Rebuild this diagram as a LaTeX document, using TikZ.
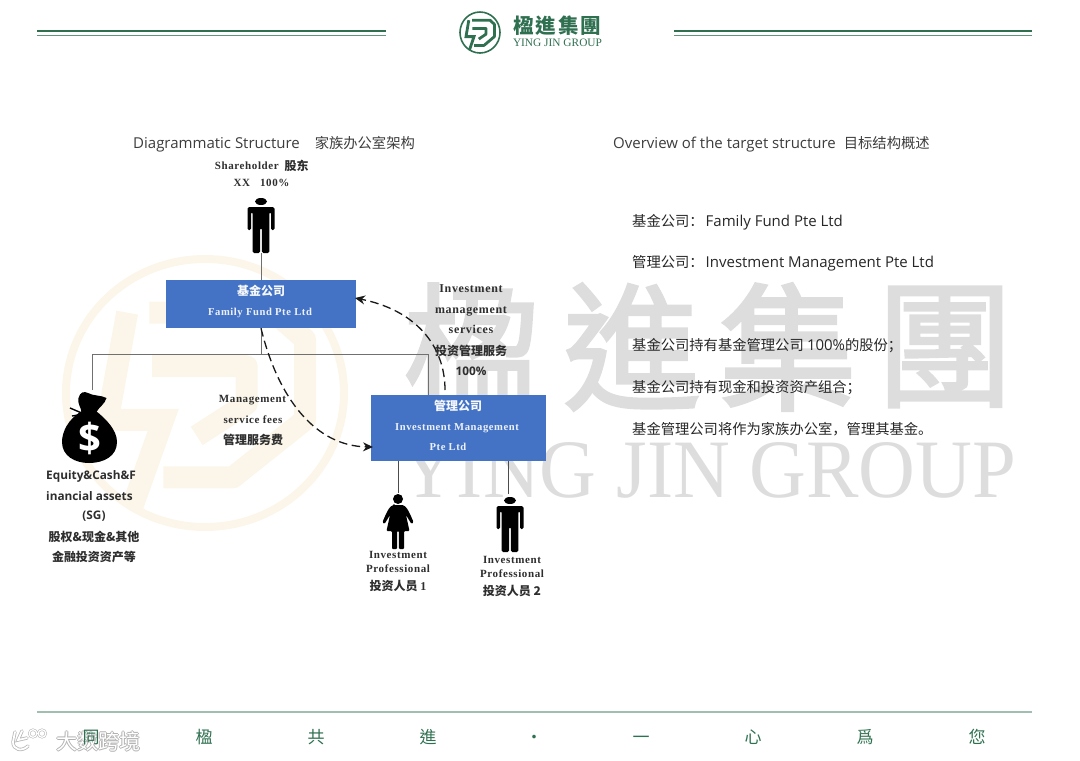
\documentclass[tikz,border=0pt]{standalone}
\usepackage{fontspec}
\usepackage{graphicx}
\setmainfont{Open Sans}
\newfontfamily\cjk{Noto Sans CJK SC}
\newfontfamily\tcjk{Noto Sans CJK TC}
\newfontfamily\wmfont[FakeBold=2]{Noto Sans CJK TC}
\newfontfamily\ser[LetterSpace=5.5]{Liberation Serif}
\newfontfamily\serplain{Liberation Serif}
\newcommand{\cb}{\fontsize{14.3}{16}\selectfont\cjk}
\usetikzlibrary{arrows.meta}
\definecolor{ygreen}{HTML}{2F7050}
\definecolor{wmgray}{HTML}{DDDDDD}
\definecolor{wmcream}{HTML}{FBF6E9}
\definecolor{boxblue}{HTML}{4472C4}
\definecolor{txt}{HTML}{3C3C3C}
\definecolor{lbl}{HTML}{2E2E2E}
\definecolor{conn}{HTML}{707070}
\tikzset{
  boxnode/.style={draw=none,fill=boxblue,inner sep=0pt},
  heading/.style={anchor=west,inner sep=0pt,text=txt,font=\fontsize{15}{16}\selectfont},
  bodytext/.style={anchor=west,inner sep=0pt,text=black!85,font=\fontsize{15}{16}\selectfont},
  serlabel/.style={inner sep=0pt,text height=9pt,text depth=2pt,text=lbl,font=\fontsize{11}{12}\selectfont\bfseries\ser},
  serlarge/.style={serlabel,font=\fontsize{12}{13}\selectfont\bfseries\ser},
  cjklabel/.style={inner sep=0pt,text=lbl,font=\fontsize{12}{13}\selectfont\bfseries\cjk},
  sanslabel/.style={inner sep=0pt,text=lbl,font=\fontsize{11.8}{13}\selectfont\bfseries},
  whiteser/.style={inner sep=0pt,text height=9pt,text depth=2pt,text=white!90!boxblue,font=\fontsize{10.6}{12}\selectfont\bfseries\ser},
  whitecjk/.style={inner sep=0pt,text=white!95!boxblue,font=\fontsize{12}{13}\selectfont\bfseries\cjk},
  footchar/.style={inner sep=0pt,anchor=base,text=ygreen,font=\fontsize{17}{18}\selectfont\tcjk},
  solidconn/.style={draw=conn,line width=1pt},
  thinconn/.style={draw=black!70,line width=.8pt},
  dashconn/.style={draw=black!90,line width=1.3pt,dash pattern=on 8.5pt off 4.5pt,-{Stealth[length=10pt,width=9pt]}},
  topline/.style={draw=ygreen,line width=2.4pt},
  topthin/.style={draw=ygreen!75,line width=1.6pt},
  wmchar/.style={inner sep=0pt,text=wmgray,font=\fontsize{138}{138}\selectfont\wmfont}
}
% logo: centre, radii, ring width, glyph width, colour
\newcommand{\yjlogo}[7]{%
  \begin{scope}[shift={(#1,#2)},xscale=#3,yscale=-#4]
    \draw[#7,line width=#5] (0,0) circle (1);
    \draw[#7,line width=#6,line join=miter]
      (-.56,.60) -- (-.70,-.20) -- (-.30,-.20) -- (-.52,-.84);
    \draw[#7,line width=#6,line join=round]
      (-.40,.60) -- (.50,.60) -- (.72,.40) -- (.72,-.20) -- (.20,-.63) -- (-.30,-.63);
    \draw[#7,line width=#6,line join=round]
      (-.38,.20) -- (.30,.20) -- (.30,-.08) -- (-.06,-.32);
  \end{scope}}
% man icon: x centre, y top
\newcommand{\manicon}[2]{%
  \begin{scope}[shift={(#1,#2)}]
    \fill[black] (0,3.5) ellipse (6 and 3.5);
    \fill[black,rounded corners=1.5pt] (-13.5,32) -- (-13.5,9) -- (13.5,9) -- (13.5,32) -- (10,32) -- (10,14) -- (8.3,14)
      -- (8.3,55) -- (.8,55) -- (.8,30) -- (-.8,30) -- (-.8,55) -- (-8.3,55) -- (-8.3,14) -- (-10,14) -- (-10,32) -- cycle;
  \end{scope}}
% woman icon: x centre, y top
\newcommand{\womanicon}[2]{%
  \begin{scope}[shift={(#1,#2)}]
    \fill[black] (0,5) circle (5);
    \fill[black,rounded corners=1pt] (-4,11) -- (4,11) .. controls (8,12) and (10,15) .. (15.5,28) -- (13.5,30) -- (8,21)
      -- (11.5,37) -- (6,37) -- (6,55) -- (.8,55) -- (.8,37) -- (-.8,37) -- (-.8,55) -- (-6,55) -- (-6,37) -- (-11.5,37)
      -- (-8,21) -- (-13.5,30) -- (-15.5,28) .. controls (-10,15) and (-8,12) .. (-4,11) -- cycle;
  \end{scope}}
\begin{document}
\begin{tikzpicture}[x=1pt,y=-1pt]
\useasboundingbox (0,0) rectangle (1080,761);
% watermark
\yjlogo{205}{393}{139}{134}{8pt}{22pt}{wmcream}
\node[wmchar] (wm1) at (472,347) {楹};
\node[wmchar] (wm2) at (632,347) {進};
\node[wmchar] (wm3) at (788,347) {集};
\node[wmchar] (wm4) at (945,347) {團};
\node[anchor=base west,inner sep=0pt,text=wmgray] (wm5) at (400,497) {\resizebox{616pt}{55pt}{\serplain YING JIN GROUP}};
% header
\coordinate (hl1) at (37,31); \coordinate (hl2) at (386,31);
\coordinate (hl3) at (37,35.5); \coordinate (hl4) at (386,35.5);
\coordinate (hr1) at (674,31); \coordinate (hr2) at (1032,31);
\coordinate (hr3) at (674,35.5); \coordinate (hr4) at (1032,35.5);
\draw[topline] (hl1) -- (hl2);
\draw[topthin] (hl3) -- (hl4);
\draw[topline] (hr1) -- (hr2);
\draw[topthin] (hr3) -- (hr4);
\yjlogo{480}{32.5}{20}{20.5}{1.6pt}{2.8pt}{ygreen}
\node[inner sep=0pt,text=ygreen,font=\fontsize{20.5}{22}\selectfont\bfseries\tcjk] (logotext) at (557.5,25.5) {楹\kern2pt 進\kern2pt 集\kern2pt 團};
\node[inner sep=0pt,text=ygreen] (logoen) at (557.5,43) {\resizebox{89pt}{!}{\serplain YING JIN GROUP}};
% headings
\node[heading] (h1) at (133,144) {Diagrammatic Structure\hspace{15pt}{\cb 家族办公室架构}};
\node[heading] (h2) at (613,144) {Overview of the target structure\hspace{8pt}{\cb 目标结构概述}};
% right column
\node[bodytext] (r1) at (632,222) {{\cb 基金公司：}\kern2pt Family Fund Pte Ltd};
\node[bodytext] (r2) at (632,263.5) {{\cb 管理公司：}\kern2pt Investment Management Pte Ltd};
\node[bodytext] (r3) at (632,346) {{\cb 基金公司持有基金管理公司 }100\%{\cb 的股份；}};
\node[bodytext] (r4) at (632,388) {{\cb 基金公司持有现金和投资资产组合；}};
\node[bodytext] (r5) at (632,429) {{\cb 基金管理公司将作为家族办公室，管理其基金。}};
% boxes
\node[boxnode,minimum width=190pt,minimum height=48pt] (box1) at (261,304) {};
\node[boxnode,minimum width=174.5pt,minimum height=66.5pt] (box2) at (458.25,427.75) {};
\node[whitecjk] (b1a) at (261,291) {基金公司};
\node[whiteser] (b1b) at (260,312) {Family Fund Pte Ltd};
\node[whitecjk] (b2a) at (458,406) {管理公司};
\node[whiteser] (b2b) at (457,427) {Investment Management};
\node[whiteser] (b2c) at (448,447) {Pte Ltd};
% icons
\manicon{261}{198}
\manicon{510}{497}
\womanicon{398}{494}
% money bag
\fill[black] (82,411) .. controls (68,419) and (62,432) .. (62,442) .. controls (62,456) and (75,463) .. (89,463)
  .. controls (104,463) and (117,456) .. (117,442) .. controls (117,430) and (106,419) .. (96,411) -- cycle;
\fill[black] (81.5,412) .. controls (81,407) and (77,403) .. (78.5,398) .. controls (80,392) and (84,391) .. (88,393)
  .. controls (93,396) and (101,395) .. (106.5,398) .. controls (105,404) and (99,407) .. (96.5,412) -- cycle;
\draw[black,line width=1.4pt] (70,408) -- (84,414) -- (72,416);
\node[inner sep=0pt,text=white,font=\fontsize{40}{41}\selectfont\bfseries] (dollar) at (89.5,438) {\$};
\coordinate (bagtop) at (92,390);
% solid connectors
\coordinate (man1foot) at (261,253);
\coordinate (hjoin) at (261,354);
\coordinate (hleft) at (92,354);
\coordinate (hright) at (428,354);
\coordinate (b2top) at (428,394.5);
\coordinate (w1) at (398,493);
\coordinate (m2) at (508,494);
\draw[solidconn] (man1foot) -- (box1.north);
\draw[solidconn] (box1.south) -- (hjoin);
\draw[solidconn] (bagtop) -- (hleft) -- (hright) -- (b2top);
\draw[thinconn] (box2.south -| w1) -- (w1);
\draw[thinconn] (box2.south -| m2) -- (m2);
% dashed connectors
\coordinate (d1s) at (box1.south);
\coordinate (d1e) at (373,447);
\coordinate (d2s) at (445,390);
\coordinate (d2e) at (355,298);
\draw[dashconn] (d1s) .. controls (278,398) and (315,446) .. (d1e);
\draw[dashconn] (d2s) .. controls (445,345) and (415,310) .. (d2e);
% labels
\node[serlabel,anchor=east] (s1) at (279,166) {Shareholder};
\node[cjklabel,anchor=west] (s2) at (284.5,165.5) {股东};
\node[serlabel] (s3) at (261.5,182.5) {XX\hspace{10pt}100\%};
\node[serlarge] (i1) at (471,289) {Investment};
\node[serlarge] (i2) at (471,310) {management};
\node[serlarge] (i3) at (471,330) {services};
\node[cjklabel] (i4) at (471,350.5) {投资管理服务};
\node[sanslabel] (i5) at (471,371) {100\%};
\node[serlabel] (m1) at (252.5,399) {Management};
\node[serlabel] (m3) at (253,420) {service fees};
\node[cjklabel] (m4) at (253,440) {管理服务费};
\node[sanslabel,anchor=west] (e1) at (46,476) {Equity\&Cash\&F};
\node[sanslabel,anchor=west] (e2) at (46,496) {inancial assets};
\node[sanslabel] (e3) at (94,516) {(SG)};
\node[cjklabel] (e4) at (94,537) {股权\&现金\&其他};
\node[cjklabel] (e5) at (94,557) {金融投资资产等};
\node[serlabel] (p1) at (398,555) {Investment};
\node[serlabel] (p2) at (398,569) {Professional};
\node[cjklabel] (p3) at (398,586) {投资人员 {\serplain 1}};
\node[serlabel] (q1) at (512,560) {Investment};
\node[serlabel] (q2) at (512,574) {Professional};
\node[cjklabel] (q3) at (512,591) {投资人员 2};
% corner stamp (lies under the footer text)
\foreach \dx/\dy in {-1/0,1/0,0/-1,0/1}{
  \node[inner sep=0pt,text=black!30,font=\fontsize{21}{22}\selectfont\cjk] at (98.5+\dx,741+\dy) {大数跨境};
}
\node[inner sep=0pt,text=white,font=\fontsize{21}{22}\selectfont\cjk] (stamp) at (98.5,741) {大数跨境};
\foreach \w/\c in {3.4/black!28,1.8/white}{
  \draw[\c,line width=\w pt,line cap=round] (15,732) -- (13,742) .. controls (13,750) and (22,752) .. (28,746);
  \draw[\c,line width=\w pt,line cap=round] (22,731) -- (18,740) -- (27,738);
  \draw[\c,line width=\w pt*.7] (33,733.5) circle (3.8) (42,733.5) circle (3.8);
}
% footer
\coordinate (fl) at (37,712); \coordinate (fr) at (1032,712);
\draw[draw=ygreen!45!white,line width=1.8pt] (fl) -- (fr);
\node[footchar] (f1) at (91,743) {同};
\node[footchar] (f2) at (204,743) {楹};
\node[footchar] (f3) at (316,743) {共};
\node[footchar] (f4) at (428,743) {進};
\node[footchar] (f5) at (534,743) {·};
\node[footchar] (f6) at (641,743) {一};
\node[footchar] (f7) at (753,743) {心};
\node[footchar] (f8) at (865,743) {爲};
\node[footchar] (f9) at (977,743) {您};
\end{tikzpicture}
\end{document}
